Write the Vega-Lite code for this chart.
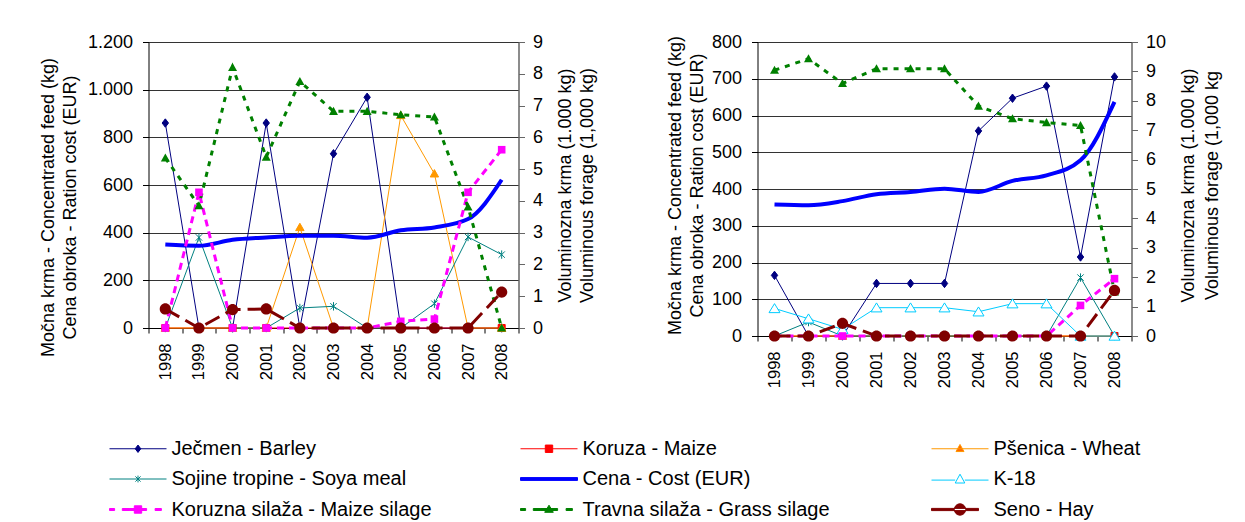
{
 "$schema": "https://vega.github.io/schema/vega-lite/v6.json",
 "background": "white",
 "padding": {"left": 38.5, "top": 33, "right": 5, "bottom": 0},
 "config": {
  "font": "Liberation Sans",
  "view": {"stroke": null},
  "axis": {"labelFont": "Liberation Sans", "titleFont": "Liberation Sans", "labelColor": "#000", "titleColor": "#000", "titleFontWeight": "normal", "labelFontSize": 18, "titleFontSize": 18, "tickColor": "#000", "domainColor": "#000"}
 },
 "datasets": {
  "leg": [{"lab": "Ječmen - Barley"}, {"lab": "Koruza - Maize"}, {"lab": "Pšenica - Wheat"}, {"lab": "Sojine tropine - Soya meal"}, {"lab": "Cena  - Cost (EUR)"}, {"lab": "K-18"}, {"lab": "Koruzna silaža - Maize silage"}, {"lab": "Travna silaža - Grass silage"}, {"lab": "Seno - Hay"}],
  "d": [
   {"p":"L","series":"Ječmen - Barley","year":"1998","v":860},{"p":"L","series":"Ječmen - Barley","year":"1999","v":0},{"p":"L","series":"Ječmen - Barley","year":"2000","v":0},{"p":"L","series":"Ječmen - Barley","year":"2001","v":860},{"p":"L","series":"Ječmen - Barley","year":"2002","v":0},{"p":"L","series":"Ječmen - Barley","year":"2003","v":731},{"p":"L","series":"Ječmen - Barley","year":"2004","v":968},{"p":"L","series":"Ječmen - Barley","year":"2005","v":0},{"p":"L","series":"Ječmen - Barley","year":"2006","v":0},{"p":"L","series":"Ječmen - Barley","year":"2007","v":0},{"p":"L","series":"Ječmen - Barley","year":"2008","v":0},
   {"p":"L","series":"Koruza - Maize","year":"1998","v":0},{"p":"L","series":"Koruza - Maize","year":"1999","v":0},{"p":"L","series":"Koruza - Maize","year":"2000","v":0},{"p":"L","series":"Koruza - Maize","year":"2001","v":0},{"p":"L","series":"Koruza - Maize","year":"2002","v":0},{"p":"L","series":"Koruza - Maize","year":"2003","v":0},{"p":"L","series":"Koruza - Maize","year":"2004","v":0},{"p":"L","series":"Koruza - Maize","year":"2005","v":0},{"p":"L","series":"Koruza - Maize","year":"2006","v":0},{"p":"L","series":"Koruza - Maize","year":"2007","v":0},{"p":"L","series":"Koruza - Maize","year":"2008","v":0},
   {"p":"L","series":"Pšenica - Wheat","year":"1998","v":0},{"p":"L","series":"Pšenica - Wheat","year":"1999","v":0},{"p":"L","series":"Pšenica - Wheat","year":"2000","v":0},{"p":"L","series":"Pšenica - Wheat","year":"2001","v":0},{"p":"L","series":"Pšenica - Wheat","year":"2002","v":422},{"p":"L","series":"Pšenica - Wheat","year":"2003","v":0},{"p":"L","series":"Pšenica - Wheat","year":"2004","v":0},{"p":"L","series":"Pšenica - Wheat","year":"2005","v":892},{"p":"L","series":"Pšenica - Wheat","year":"2006","v":647},{"p":"L","series":"Pšenica - Wheat","year":"2007","v":0},{"p":"L","series":"Pšenica - Wheat","year":"2008","v":0},
   {"p":"L","series":"Sojine tropine - Soya meal","year":"1998","v":0},{"p":"L","series":"Sojine tropine - Soya meal","year":"1999","v":380},{"p":"L","series":"Sojine tropine - Soya meal","year":"2000","v":0},{"p":"L","series":"Sojine tropine - Soya meal","year":"2001","v":0},{"p":"L","series":"Sojine tropine - Soya meal","year":"2002","v":84},{"p":"L","series":"Sojine tropine - Soya meal","year":"2003","v":91},{"p":"L","series":"Sojine tropine - Soya meal","year":"2004","v":0},{"p":"L","series":"Sojine tropine - Soya meal","year":"2005","v":0},{"p":"L","series":"Sojine tropine - Soya meal","year":"2006","v":102},{"p":"L","series":"Sojine tropine - Soya meal","year":"2007","v":382},{"p":"L","series":"Sojine tropine - Soya meal","year":"2008","v":308},
   {"p":"L","series":"Cena  - Cost (EUR)","year":"1998","v":350},{"p":"L","series":"Cena  - Cost (EUR)","year":"1999","v":345},{"p":"L","series":"Cena  - Cost (EUR)","year":"2000","v":370},{"p":"L","series":"Cena  - Cost (EUR)","year":"2001","v":380},{"p":"L","series":"Cena  - Cost (EUR)","year":"2002","v":387},{"p":"L","series":"Cena  - Cost (EUR)","year":"2003","v":387},{"p":"L","series":"Cena  - Cost (EUR)","year":"2004","v":379},{"p":"L","series":"Cena  - Cost (EUR)","year":"2005","v":410},{"p":"L","series":"Cena  - Cost (EUR)","year":"2006","v":422},{"p":"L","series":"Cena  - Cost (EUR)","year":"2007","v":457},{"p":"L","series":"Cena  - Cost (EUR)","year":"2008","v":622},
   {"p":"L","series":"Koruzna silaža - Maize silage","year":"1998","v":0},{"p":"L","series":"Koruzna silaža - Maize silage","year":"1999","v":4.27},{"p":"L","series":"Koruzna silaža - Maize silage","year":"2000","v":0},{"p":"L","series":"Koruzna silaža - Maize silage","year":"2001","v":0},{"p":"L","series":"Koruzna silaža - Maize silage","year":"2002","v":0},{"p":"L","series":"Koruzna silaža - Maize silage","year":"2003","v":0},{"p":"L","series":"Koruzna silaža - Maize silage","year":"2004","v":0},{"p":"L","series":"Koruzna silaža - Maize silage","year":"2005","v":0.21},{"p":"L","series":"Koruzna silaža - Maize silage","year":"2006","v":0.28},{"p":"L","series":"Koruzna silaža - Maize silage","year":"2007","v":4.27},{"p":"L","series":"Koruzna silaža - Maize silage","year":"2008","v":5.61},
   {"p":"L","series":"Travna silaža - Grass silage","year":"1998","v":5.35},{"p":"L","series":"Travna silaža - Grass silage","year":"1999","v":3.85},{"p":"L","series":"Travna silaža - Grass silage","year":"2000","v":8.2},{"p":"L","series":"Travna silaža - Grass silage","year":"2001","v":5.38},{"p":"L","series":"Travna silaža - Grass silage","year":"2002","v":7.76},{"p":"L","series":"Travna silaža - Grass silage","year":"2003","v":6.82},{"p":"L","series":"Travna silaža - Grass silage","year":"2004","v":6.82},{"p":"L","series":"Travna silaža - Grass silage","year":"2005","v":6.71},{"p":"L","series":"Travna silaža - Grass silage","year":"2006","v":6.64},{"p":"L","series":"Travna silaža - Grass silage","year":"2007","v":3.81},{"p":"L","series":"Travna silaža - Grass silage","year":"2008","v":0},
   {"p":"L","series":"Seno - Hay","year":"1998","v":0.6},{"p":"L","series":"Seno - Hay","year":"1999","v":0},{"p":"L","series":"Seno - Hay","year":"2000","v":0.58},{"p":"L","series":"Seno - Hay","year":"2001","v":0.6},{"p":"L","series":"Seno - Hay","year":"2002","v":0},{"p":"L","series":"Seno - Hay","year":"2003","v":0},{"p":"L","series":"Seno - Hay","year":"2004","v":0},{"p":"L","series":"Seno - Hay","year":"2005","v":0},{"p":"L","series":"Seno - Hay","year":"2006","v":0},{"p":"L","series":"Seno - Hay","year":"2007","v":0},{"p":"L","series":"Seno - Hay","year":"2008","v":1.13},
   {"p":"R","series":"Ječmen - Barley","year":"1998","v":165},{"p":"R","series":"Ječmen - Barley","year":"1999","v":0},{"p":"R","series":"Ječmen - Barley","year":"2000","v":0},{"p":"R","series":"Ječmen - Barley","year":"2001","v":143},{"p":"R","series":"Ječmen - Barley","year":"2002","v":143},{"p":"R","series":"Ječmen - Barley","year":"2003","v":143},{"p":"R","series":"Ječmen - Barley","year":"2004","v":558},{"p":"R","series":"Ječmen - Barley","year":"2005","v":647},{"p":"R","series":"Ječmen - Barley","year":"2006","v":680},{"p":"R","series":"Ječmen - Barley","year":"2007","v":215},{"p":"R","series":"Ječmen - Barley","year":"2008","v":705},
   {"p":"R","series":"Koruza - Maize","year":"1998","v":0},{"p":"R","series":"Koruza - Maize","year":"1999","v":0},{"p":"R","series":"Koruza - Maize","year":"2000","v":0},{"p":"R","series":"Koruza - Maize","year":"2001","v":0},{"p":"R","series":"Koruza - Maize","year":"2002","v":0},{"p":"R","series":"Koruza - Maize","year":"2003","v":0},{"p":"R","series":"Koruza - Maize","year":"2004","v":0},{"p":"R","series":"Koruza - Maize","year":"2005","v":0},{"p":"R","series":"Koruza - Maize","year":"2006","v":0},{"p":"R","series":"Koruza - Maize","year":"2007","v":0},{"p":"R","series":"Koruza - Maize","year":"2008","v":0},
   {"p":"R","series":"Pšenica - Wheat","year":"1998","v":0},{"p":"R","series":"Pšenica - Wheat","year":"1999","v":0},{"p":"R","series":"Pšenica - Wheat","year":"2000","v":0},{"p":"R","series":"Pšenica - Wheat","year":"2001","v":0},{"p":"R","series":"Pšenica - Wheat","year":"2002","v":0},{"p":"R","series":"Pšenica - Wheat","year":"2003","v":0},{"p":"R","series":"Pšenica - Wheat","year":"2004","v":0},{"p":"R","series":"Pšenica - Wheat","year":"2005","v":0},{"p":"R","series":"Pšenica - Wheat","year":"2006","v":0},{"p":"R","series":"Pšenica - Wheat","year":"2007","v":0},{"p":"R","series":"Pšenica - Wheat","year":"2008","v":0},
   {"p":"R","series":"Sojine tropine - Soya meal","year":"1998","v":0},{"p":"R","series":"Sojine tropine - Soya meal","year":"1999","v":38},{"p":"R","series":"Sojine tropine - Soya meal","year":"2000","v":0},{"p":"R","series":"Sojine tropine - Soya meal","year":"2001","v":0},{"p":"R","series":"Sojine tropine - Soya meal","year":"2002","v":0},{"p":"R","series":"Sojine tropine - Soya meal","year":"2003","v":0},{"p":"R","series":"Sojine tropine - Soya meal","year":"2004","v":0},{"p":"R","series":"Sojine tropine - Soya meal","year":"2005","v":0},{"p":"R","series":"Sojine tropine - Soya meal","year":"2006","v":0},{"p":"R","series":"Sojine tropine - Soya meal","year":"2007","v":159},{"p":"R","series":"Sojine tropine - Soya meal","year":"2008","v":0},
   {"p":"R","series":"Cena  - Cost (EUR)","year":"1998","v":358},{"p":"R","series":"Cena  - Cost (EUR)","year":"1999","v":356},{"p":"R","series":"Cena  - Cost (EUR)","year":"2000","v":367},{"p":"R","series":"Cena  - Cost (EUR)","year":"2001","v":386},{"p":"R","series":"Cena  - Cost (EUR)","year":"2002","v":392},{"p":"R","series":"Cena  - Cost (EUR)","year":"2003","v":401},{"p":"R","series":"Cena  - Cost (EUR)","year":"2004","v":392},{"p":"R","series":"Cena  - Cost (EUR)","year":"2005","v":422},{"p":"R","series":"Cena  - Cost (EUR)","year":"2006","v":437},{"p":"R","series":"Cena  - Cost (EUR)","year":"2007","v":478},{"p":"R","series":"Cena  - Cost (EUR)","year":"2008","v":637},
   {"p":"R","series":"K-18","year":"1998","v":75},{"p":"R","series":"K-18","year":"1999","v":47},{"p":"R","series":"K-18","year":"2000","v":18},{"p":"R","series":"K-18","year":"2001","v":77},{"p":"R","series":"K-18","year":"2002","v":77},{"p":"R","series":"K-18","year":"2003","v":77},{"p":"R","series":"K-18","year":"2004","v":66},{"p":"R","series":"K-18","year":"2005","v":88},{"p":"R","series":"K-18","year":"2006","v":88},{"p":"R","series":"K-18","year":"2007","v":0},{"p":"R","series":"K-18","year":"2008","v":0},
   {"p":"R","series":"Koruzna silaža - Maize silage","year":"1998","v":0},{"p":"R","series":"Koruzna silaža - Maize silage","year":"1999","v":0},{"p":"R","series":"Koruzna silaža - Maize silage","year":"2000","v":0},{"p":"R","series":"Koruzna silaža - Maize silage","year":"2001","v":0},{"p":"R","series":"Koruzna silaža - Maize silage","year":"2002","v":0},{"p":"R","series":"Koruzna silaža - Maize silage","year":"2003","v":0},{"p":"R","series":"Koruzna silaža - Maize silage","year":"2004","v":0},{"p":"R","series":"Koruzna silaža - Maize silage","year":"2005","v":0},{"p":"R","series":"Koruzna silaža - Maize silage","year":"2006","v":0},{"p":"R","series":"Koruzna silaža - Maize silage","year":"2007","v":1.04},{"p":"R","series":"Koruzna silaža - Maize silage","year":"2008","v":1.95},
   {"p":"R","series":"Travna silaža - Grass silage","year":"1998","v":9.04},{"p":"R","series":"Travna silaža - Grass silage","year":"1999","v":9.43},{"p":"R","series":"Travna silaža - Grass silage","year":"2000","v":8.59},{"p":"R","series":"Travna silaža - Grass silage","year":"2001","v":9.09},{"p":"R","series":"Travna silaža - Grass silage","year":"2002","v":9.09},{"p":"R","series":"Travna silaža - Grass silage","year":"2003","v":9.09},{"p":"R","series":"Travna silaža - Grass silage","year":"2004","v":7.82},{"p":"R","series":"Travna silaža - Grass silage","year":"2005","v":7.39},{"p":"R","series":"Travna silaža - Grass silage","year":"2006","v":7.26},{"p":"R","series":"Travna silaža - Grass silage","year":"2007","v":7.16},{"p":"R","series":"Travna silaža - Grass silage","year":"2008","v":1.5},
   {"p":"R","series":"Seno - Hay","year":"1998","v":0},{"p":"R","series":"Seno - Hay","year":"1999","v":0},{"p":"R","series":"Seno - Hay","year":"2000","v":0.43},{"p":"R","series":"Seno - Hay","year":"2001","v":0},{"p":"R","series":"Seno - Hay","year":"2002","v":0},{"p":"R","series":"Seno - Hay","year":"2003","v":0},{"p":"R","series":"Seno - Hay","year":"2004","v":0},{"p":"R","series":"Seno - Hay","year":"2005","v":0},{"p":"R","series":"Seno - Hay","year":"2006","v":0},{"p":"R","series":"Seno - Hay","year":"2007","v":0},{"p":"R","series":"Seno - Hay","year":"2008","v":1.55}
  ]
 },
 "data": {"name": "d"},
 "spacing": 239,
 "bounds": "flush",
 "resolve": {"scale": {"shape": "independent", "fill": "independent", "stroke": "independent", "strokeDash": "independent"}, "legend": {"shape": "independent", "fill": "independent", "stroke": "independent"}},
 "hconcat": [
  {
   "width": 370, "height": 286,
   "resolve": {"scale": {"y": "independent", "shape": "independent", "fill": "independent", "stroke": "independent"}},
   "layer": [
    {
     "transform": [{"filter": "datum.p == 'L'"}, {"filter": {"field": "series", "oneOf": ["Ječmen - Barley", "Koruza - Maize", "Pšenica - Wheat", "Sojine tropine - Soya meal", "Cena  - Cost (EUR)", "K-18"]}}],
     "encoding": {
      "x": {"field": "year", "type": "ordinal", "bandPosition": 0.5, "scale": {"type": "band", "paddingInner": 0, "paddingOuter": 0}, "axis": {"title": null, "labelAngle": -90, "tickBand": "extent", "tickSize": 5, "labelPadding": 10, "labelFontSize": 16.5, "grid": false}},
      "y": {"field": "v", "type": "quantitative", "scale": {"domain": [0, 1200], "nice": false}, "axis": {"title": ["Močna krma - Concentrated feed (kg)", "Cena obroka - Ration cost (EUR)"], "values": [0, 200, 400, 600, 800, 1000, 1200], "labelExpr": "replace(format(datum.value, ','), ',', '.')", "grid": true, "gridColor": "#000", "gridOpacity": 0.8, "tickSize": 6, "labelPadding": 10, "titlePadding": 8, "titleLineHeight": 22, "titleY": 165}}
     },
     "layer": [
      {"transform": [{"filter": "datum.series != 'Cena  - Cost (EUR)'"}], "mark": {"type": "line", "strokeWidth": 1}, "encoding": {"stroke": {"field": "series", "type": "nominal", "scale": {"domain": ["Ječmen - Barley", "Koruza - Maize", "Pšenica - Wheat", "Sojine tropine - Soya meal", "Cena  - Cost (EUR)", "K-18", "Koruzna silaža - Maize silage", "Travna silaža - Grass silage", "Seno - Hay"], "range": ["#000080", "#FF0000", "#FF9900", "#008080", "#0000FF", "#00CCFF", "#FF00FF", "#008000", "#800000"]}, "legend": null}}},
      {"transform": [{"filter": "datum.series == 'Cena  - Cost (EUR)'"}], "mark": {"type": "line", "strokeWidth": 4, "stroke": "#0000FF", "interpolate": "monotone"}, "encoding": {}},
      {"transform": [{"filter": "datum.series != 'Cena  - Cost (EUR)'"}], "mark": {"type": "point", "filled": true, "opacity": 1, "size": 400, "strokeWidth": 1}, "encoding": {
        "shape": {"field": "series", "type": "nominal", "scale": {"domain": ["Ječmen - Barley", "Koruza - Maize", "Pšenica - Wheat", "Sojine tropine - Soya meal", "Cena  - Cost (EUR)", "K-18", "Koruzna silaža - Maize silage", "Travna silaža - Grass silage", "Seno - Hay"], "range": ["M0,-0.42L0.32,0L0,0.42L-0.32,0Z", "M-0.35,-0.35H0.35V0.35H-0.35Z", "M0,-0.42L0.42,0.32H-0.42Z", "M-0.32,-0.32L0.32,0.32M-0.32,0.32L0.32,-0.32M0,-0.42V0.42", "M-0.01,0H0.01", "M0,-0.48L0.55,0.42H-0.55Z", "M-0.38,-0.38H0.38V0.38H-0.38Z", "M0,-0.45L0.45,0.36H-0.45Z", "M-0.56,0A0.56,0.56 0 1,0 0.56,0A0.56,0.56 0 1,0 -0.56,0Z"]}, "legend": null},
        "fill": {"field": "series", "type": "nominal", "scale": {"domain": ["Ječmen - Barley", "Koruza - Maize", "Pšenica - Wheat", "Sojine tropine - Soya meal", "Cena  - Cost (EUR)", "K-18", "Koruzna silaža - Maize silage", "Travna silaža - Grass silage", "Seno - Hay"], "range": ["#000080", "#FF0000", "#FF9900", "#008080", "#0000FF", "#FFFFFF", "#FF00FF", "#008000", "#800000"]}, "legend": null},
        "stroke": {"field": "series", "type": "nominal", "scale": {"domain": ["Ječmen - Barley", "Koruza - Maize", "Pšenica - Wheat", "Sojine tropine - Soya meal", "Cena  - Cost (EUR)", "K-18", "Koruzna silaža - Maize silage", "Travna silaža - Grass silage", "Seno - Hay"], "range": ["#000080", "#FF0000", "#FF9900", "#008080", "#0000FF", "#00CCFF", "#FF00FF", "#008000", "#800000"]}, "legend": null}
      }}
     ]
    },
    {
     "transform": [{"filter": "datum.p == 'L'"}, {"filter": {"field": "series", "oneOf": ["Koruzna silaža - Maize silage", "Travna silaža - Grass silage", "Seno - Hay"]}}],
     "encoding": {
      "x": {"field": "year", "type": "ordinal", "bandPosition": 0.5},
      "y": {"field": "v", "type": "quantitative", "scale": {"domain": [0, 9], "nice": false}, "axis": {"orient": "right", "title": ["Voluminozna krma (1.000 kg)", "Voluminous forage (1,000 kg)"], "titleAngle": -90, "values": [0, 1, 2, 3, 4, 5, 6, 7, 8, 9], "grid": false, "tickSize": 6, "labelPadding": 8, "titlePadding": 10, "titleLineHeight": 22, "domainColor": "#666", "tickColor": "#666", "domainWidth": 1.5}}
     },
     "layer": [
      {"mark": {"type": "line", "strokeWidth": 3}, "encoding": {
        "stroke": {"field": "series", "type": "nominal", "scale": {"domain": ["Koruzna silaža - Maize silage", "Travna silaža - Grass silage", "Seno - Hay"], "range": ["#FF00FF", "#008000", "#800000"]}, "legend": null},
        "strokeDash": {"field": "series", "type": "nominal", "scale": {"domain": ["Koruzna silaža - Maize silage", "Travna silaža - Grass silage", "Seno - Hay"], "range": [[7, 5], [5, 6], [16, 7]]}, "legend": null}
      }},
      {"mark": {"type": "point", "filled": true, "opacity": 1, "size": 400, "strokeWidth": 1}, "encoding": {
        "shape": {"field": "series", "type": "nominal", "scale": {"domain": ["Koruzna silaža - Maize silage", "Travna silaža - Grass silage", "Seno - Hay"], "range": ["M-0.38,-0.38H0.38V0.38H-0.38Z", "M0,-0.45L0.45,0.36H-0.45Z", "M-0.56,0A0.56,0.56 0 1,0 0.56,0A0.56,0.56 0 1,0 -0.56,0Z"]}, "legend": null},
        "fill": {"field": "series", "type": "nominal", "scale": {"domain": ["Koruzna silaža - Maize silage", "Travna silaža - Grass silage", "Seno - Hay"], "range": ["#FF00FF", "#008000", "#800000"]}, "legend": null}
      }}
     ]
    },
    {
     "data": {"name": "leg"},
     "transform": [{"filter": "false"}],
     "mark": {"type": "point", "filled": true, "opacity": 1},
     "encoding": {
      "shape": {"field": "lab", "type": "nominal", "scale": {"domain": ["Ječmen - Barley", "Koruza - Maize", "Pšenica - Wheat", "Sojine tropine - Soya meal", "Cena  - Cost (EUR)", "K-18", "Koruzna silaža - Maize silage", "Travna silaža - Grass silage", "Seno - Hay"], "range": ["M-2.85,0H2.85M0,-0.37L0.28,0L0,0.37L-0.28,0Z", "M-2.85,0H2.85M-0.37,-0.37H0.37V0.37H-0.37Z", "M-2.85,0H2.85M0,-0.43L0.4,0.28H-0.4Z", "M-2.85,0H2.85M-0.26,-0.26L0.26,0.26M-0.26,0.26L0.26,-0.26M0,-0.34V0.34", "M-2.85,-0.14H2.85V0.14H-2.85Z", "M-2.85,0.11H-0.48M0.48,0.11H2.85M0,-0.48L0.48,0.4H-0.48Z", "M-2.85,-0.1H-2.34V0.1H-2.85ZM-1.57,-0.1H-0.86V0.1H-1.57ZM-0.86,-0.1H0.86V0.1H-0.86ZM-0.37,-0.37H0.37V0.37H-0.37ZM1.71,-0.1H2.34V0.1H1.71Z", "M-2.85,-0.1H-2.34V0.1H-2.85ZM-1.57,-0.1H-0.86V0.1H-1.57ZM-0.86,-0.1H0.86V0.1H-0.86ZM0,-0.43L0.43,0.28H-0.43ZM1.71,-0.1H2.34V0.1H1.71Z", "M-2.85,-0.11H1.85V0.11H-2.85ZM-0.57,0A0.57,0.57 0 1,0 0.57,0A0.57,0.57 0 1,0 -0.57,0Z"]},
       "legend": {"orient": "none", "legendX": -39, "legendY": 396, "direction": "horizontal", "columns": 3, "title": null, "symbolSize": 400, "symbolOffset": 18, "symbolStrokeWidth": 1, "labelFontSize": 20, "labelFont": "Liberation Sans", "labelColor": "#000", "labelOffset": 23, "columnPadding": 86, "rowPadding": 9.5, "gridAlign": "all", "labelLimit": 400, "padding": 0, "symbolOpacity": 1}},
      "fill": {"field": "lab", "type": "nominal", "scale": {"domain": ["Ječmen - Barley", "Koruza - Maize", "Pšenica - Wheat", "Sojine tropine - Soya meal", "Cena  - Cost (EUR)", "K-18", "Koruzna silaža - Maize silage", "Travna silaža - Grass silage", "Seno - Hay"], "range": ["#000080", "#FF0000", "#FF6600", "#008080", "#0000FF", "#FFFFFF", "#FF00FF", "#008000", "#800000"]},
       "legend": {"orient": "none", "legendX": -39, "legendY": 396, "direction": "horizontal", "columns": 3, "title": null, "symbolSize": 400, "symbolOffset": 18, "symbolStrokeWidth": 1, "labelFontSize": 20, "labelFont": "Liberation Sans", "labelColor": "#000", "labelOffset": 23, "columnPadding": 86, "rowPadding": 9.5, "gridAlign": "all", "labelLimit": 400, "padding": 0, "symbolOpacity": 1}},
      "stroke": {"field": "lab", "type": "nominal", "scale": {"domain": ["Ječmen - Barley", "Koruza - Maize", "Pšenica - Wheat", "Sojine tropine - Soya meal", "Cena  - Cost (EUR)", "K-18", "Koruzna silaža - Maize silage", "Travna silaža - Grass silage", "Seno - Hay"], "range": ["#000080", "#FF0000", "#FF9900", "#008080", "#0000FF", "#00CCFF", "#FF00FF", "#008000", "#800000"]},
       "legend": {"orient": "none", "legendX": -39, "legendY": 396, "direction": "horizontal", "columns": 3, "title": null, "symbolSize": 400, "symbolOffset": 18, "symbolStrokeWidth": 1, "labelFontSize": 20, "labelFont": "Liberation Sans", "labelColor": "#000", "labelOffset": 23, "columnPadding": 86, "rowPadding": 9.5, "gridAlign": "all", "labelLimit": 400, "padding": 0, "symbolOpacity": 1}}
     }
    }
   ]
  },
  {
   "width": 374, "height": 294,
   "resolve": {"scale": {"y": "independent"}},
   "layer": [
    {
     "transform": [{"filter": "datum.p == 'R'"}, {"filter": {"field": "series", "oneOf": ["Ječmen - Barley", "Koruza - Maize", "Pšenica - Wheat", "Sojine tropine - Soya meal", "Cena  - Cost (EUR)", "K-18"]}}],
     "encoding": {
      "x": {"field": "year", "type": "ordinal", "bandPosition": 0.5, "scale": {"type": "band", "paddingInner": 0, "paddingOuter": 0}, "axis": {"title": null, "labelAngle": -90, "tickBand": "extent", "tickSize": 5, "labelPadding": 10, "labelFontSize": 16.5, "grid": false}},
      "y": {"field": "v", "type": "quantitative", "scale": {"domain": [0, 800], "nice": false}, "axis": {"title": ["Močna krma - Concentrated feed (kg)", "Cena obroka - Ration cost (EUR)"], "values": [0, 100, 200, 300, 400, 500, 600, 700, 800], "grid": true, "gridColor": "#000", "gridOpacity": 0.8, "tickSize": 6, "labelPadding": 10, "titlePadding": 5, "titleLineHeight": 22, "titleY": 143}}
     },
     "layer": [
      {"transform": [{"filter": "datum.series != 'Cena  - Cost (EUR)'"}], "mark": {"type": "line", "strokeWidth": 1}, "encoding": {"stroke": {"field": "series", "type": "nominal", "scale": {"domain": ["Ječmen - Barley", "Koruza - Maize", "Pšenica - Wheat", "Sojine tropine - Soya meal", "Cena  - Cost (EUR)", "K-18", "Koruzna silaža - Maize silage", "Travna silaža - Grass silage", "Seno - Hay"], "range": ["#000080", "#FF0000", "#FF9900", "#008080", "#0000FF", "#00CCFF", "#FF00FF", "#008000", "#800000"]}, "legend": null}}},
      {"transform": [{"filter": "datum.series == 'Cena  - Cost (EUR)'"}], "mark": {"type": "line", "strokeWidth": 4, "stroke": "#0000FF", "interpolate": "monotone"}, "encoding": {}},
      {"transform": [{"filter": "datum.series != 'Cena  - Cost (EUR)'"}], "mark": {"type": "point", "filled": true, "opacity": 1, "size": 400, "strokeWidth": 1}, "encoding": {
        "shape": {"field": "series", "type": "nominal", "scale": {"domain": ["Ječmen - Barley", "Koruza - Maize", "Pšenica - Wheat", "Sojine tropine - Soya meal", "Cena  - Cost (EUR)", "K-18", "Koruzna silaža - Maize silage", "Travna silaža - Grass silage", "Seno - Hay"], "range": ["M0,-0.42L0.32,0L0,0.42L-0.32,0Z", "M-0.35,-0.35H0.35V0.35H-0.35Z", "M0,-0.42L0.42,0.32H-0.42Z", "M-0.32,-0.32L0.32,0.32M-0.32,0.32L0.32,-0.32M0,-0.42V0.42", "M-0.01,0H0.01", "M0,-0.48L0.55,0.42H-0.55Z", "M-0.38,-0.38H0.38V0.38H-0.38Z", "M0,-0.45L0.45,0.36H-0.45Z", "M-0.56,0A0.56,0.56 0 1,0 0.56,0A0.56,0.56 0 1,0 -0.56,0Z"]}, "legend": null},
        "fill": {"field": "series", "type": "nominal", "scale": {"domain": ["Ječmen - Barley", "Koruza - Maize", "Pšenica - Wheat", "Sojine tropine - Soya meal", "Cena  - Cost (EUR)", "K-18", "Koruzna silaža - Maize silage", "Travna silaža - Grass silage", "Seno - Hay"], "range": ["#000080", "#FF0000", "#FF9900", "#008080", "#0000FF", "#FFFFFF", "#FF00FF", "#008000", "#800000"]}, "legend": null},
        "stroke": {"field": "series", "type": "nominal", "scale": {"domain": ["Ječmen - Barley", "Koruza - Maize", "Pšenica - Wheat", "Sojine tropine - Soya meal", "Cena  - Cost (EUR)", "K-18", "Koruzna silaža - Maize silage", "Travna silaža - Grass silage", "Seno - Hay"], "range": ["#000080", "#FF0000", "#FF9900", "#008080", "#0000FF", "#00CCFF", "#FF00FF", "#008000", "#800000"]}, "legend": null}
      }}
     ]
    },
    {
     "transform": [{"filter": "datum.p == 'R'"}, {"filter": {"field": "series", "oneOf": ["Koruzna silaža - Maize silage", "Travna silaža - Grass silage", "Seno - Hay"]}}],
     "encoding": {
      "x": {"field": "year", "type": "ordinal", "bandPosition": 0.5},
      "y": {"field": "v", "type": "quantitative", "scale": {"domain": [0, 10], "nice": false}, "axis": {"orient": "right", "title": ["Voluminozna krma (1.000 kg)", "Voluminous forage (1,000 kg"], "titleAngle": -90, "values": [0, 1, 2, 3, 4, 5, 6, 7, 8, 9, 10], "grid": false, "tickSize": 6, "labelPadding": 8, "titlePadding": 8, "titleLineHeight": 24, "titleY": 143, "domainColor": "#666", "tickColor": "#666", "domainWidth": 1.5}}
     },
     "layer": [
      {"mark": {"type": "line", "strokeWidth": 3}, "encoding": {
        "stroke": {"field": "series", "type": "nominal", "scale": {"domain": ["Koruzna silaža - Maize silage", "Travna silaža - Grass silage", "Seno - Hay"], "range": ["#FF00FF", "#008000", "#800000"]}, "legend": null},
        "strokeDash": {"field": "series", "type": "nominal", "scale": {"domain": ["Koruzna silaža - Maize silage", "Travna silaža - Grass silage", "Seno - Hay"], "range": [[7, 5], [5, 6], [16, 7]]}, "legend": null}
      }},
      {"mark": {"type": "point", "filled": true, "opacity": 1, "size": 400, "strokeWidth": 1}, "encoding": {
        "shape": {"field": "series", "type": "nominal", "scale": {"domain": ["Koruzna silaža - Maize silage", "Travna silaža - Grass silage", "Seno - Hay"], "range": ["M-0.38,-0.38H0.38V0.38H-0.38Z", "M0,-0.45L0.45,0.36H-0.45Z", "M-0.56,0A0.56,0.56 0 1,0 0.56,0A0.56,0.56 0 1,0 -0.56,0Z"]}, "legend": null},
        "fill": {"field": "series", "type": "nominal", "scale": {"domain": ["Koruzna silaža - Maize silage", "Travna silaža - Grass silage", "Seno - Hay"], "range": ["#FF00FF", "#008000", "#800000"]}, "legend": null}
      }}
     ]
    }
   ]
  }
 ]
}
